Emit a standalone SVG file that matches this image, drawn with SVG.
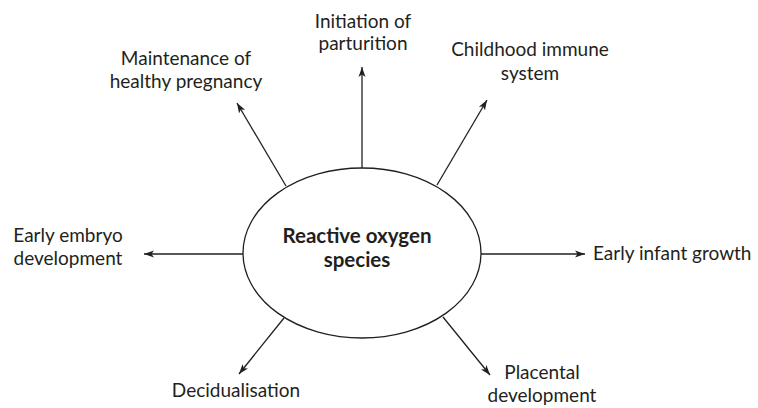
<svg xmlns="http://www.w3.org/2000/svg" width="758" height="408" viewBox="0 0 758 408">
<style>
text{font-family:Lato,"Liberation Sans",sans-serif;font-size:19px;fill:#231f20}
.c{text-anchor:middle}
.b{font-weight:bold;font-size:20.5px}
.ln{stroke:#231f20;stroke-width:1.3;fill:none}
</style>
<defs>
<marker id="ah" viewBox="0 0 10 10" refX="10" refY="5" markerWidth="10" markerHeight="10" markerUnits="userSpaceOnUse" orient="auto">
<path d="M0,1.5 L10,5 L0,8.5 L2.5,5 Z" fill="#231f20"/>
</marker>
</defs>
<rect width="758" height="408" fill="#fff"/>
<g id="connectors">
<line class="ln" x1="362" y1="168" x2="362" y2="67" marker-end="url(#ah)"/>
<line class="ln" x1="286" y1="186" x2="237" y2="103" marker-end="url(#ah)"/>
<line class="ln" x1="437" y1="185" x2="487" y2="100" marker-end="url(#ah)"/>
<line class="ln" x1="243" y1="254" x2="144" y2="254" marker-end="url(#ah)"/>
<line class="ln" x1="481" y1="254" x2="585" y2="254" marker-end="url(#ah)"/>
<line class="ln" x1="284" y1="318" x2="239" y2="374" marker-end="url(#ah)"/>
<line class="ln" x1="443" y1="317" x2="490" y2="375" marker-end="url(#ah)"/>
</g>
<g id="center">
<ellipse class="ln" cx="362" cy="253" rx="119" ry="85"/>
<text class="c b" x="357" y="243">Reactive oxygen</text>
<text class="c b" x="357" y="267">species</text>
</g>
<g id="initiation">
<text class="c" x="363" y="28">Initiation of</text>
<text class="c" x="363" y="50">parturition</text>
</g>
<g id="maintenance">
<text class="c" x="186" y="65">Maintenance of</text>
<text class="c" x="186" y="88">healthy pregnancy</text>
</g>
<g id="childhood">
<text class="c" x="530" y="56">Childhood immune</text>
<text class="c" x="530" y="80">system</text>
</g>
<g id="embryo">
<text class="c" x="68" y="242">Early embryo</text>
<text class="c" x="68" y="265">development</text>
</g>
<g id="infant">
<text x="593" y="260">Early infant growth</text>
</g>
<g id="decidualisation">
<text class="c" x="236" y="397">Decidualisation</text>
</g>
<g id="placental">
<text class="c" x="542" y="379">Placental</text>
<text class="c" x="542" y="402">development</text>
</g>
</svg>
